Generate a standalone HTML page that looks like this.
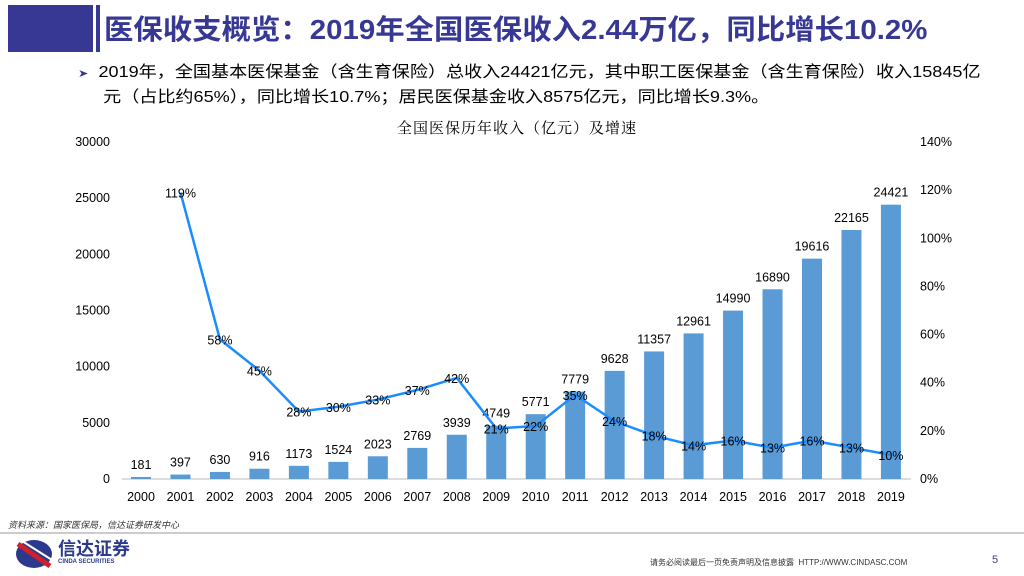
<!DOCTYPE html>
<html><head><meta charset="utf-8"><style>
body{margin:0;width:1024px;height:576px;background:#fff;position:relative;overflow:hidden;font-family:"Liberation Sans","Noto Sans CJK SC",sans-serif}
.abs{position:absolute}
</style></head><body>
<div class="abs" style="left:8px;top:5px;width:85px;height:47px;background:#363894"></div>
<div class="abs" style="left:96px;top:5px;width:4px;height:47px;background:#363894"></div>
<div class="abs" style="left:104px;top:8px;font-size:28px;font-weight:bold;color:#363894;white-space:nowrap;transform-origin:0 0;transform:scaleX(1.05)">医保收支概览：2019年全国医保收入2.44万亿，同比增长10.2%</div>
<div class="abs" style="left:78px;top:61px;font-size:16px;line-height:23px;color:#000;width:960px;white-space:nowrap;transform-origin:0 0;transform:scaleX(1.13)"><span style="color:#363894;font-size:11px">➤</span>&nbsp;&nbsp;2019年，全国基本医保基金（含生育保险）总收入24421亿元，其中职工医保基金（含生育保险）收入15845亿<br>&nbsp;&nbsp;&nbsp;&nbsp;&nbsp;元（占比约65%），同比增长10.7%；居民医保基金收入8575亿元，同比增长9.3%。</div>
<svg class="abs" style="left:0;top:0" width="1024" height="576">
<text x="517" y="133" text-anchor="middle" font-size="15" font-family="Liberation Serif,Noto Serif CJK SC,serif" letter-spacing="1">全国医保历年收入（亿元）及增速</text>
<g id="g" font-size="12.5" fill="#000"></g>
</svg>
<div class="abs" style="left:8px;top:518px;font-size:9px;font-style:italic;color:#333">资料来源：国家医保局，信达证券研发中心</div>
<div class="abs" style="left:0;top:532px;width:1024px;height:2px;background:#ccc"></div>
<svg class="abs" style="left:14px;top:538px" width="40" height="32"><ellipse cx="20" cy="16" rx="18" ry="14" fill="#2b3a8c"/><path d="M4 6 L36 28" stroke="#d0202a" stroke-width="5"/><path d="M8 3 L38 22" stroke="#fff" stroke-width="2"/></svg>
<div class="abs" style="left:58px;top:540px;font-size:18px;font-weight:bold;color:#2b3a8c;line-height:18px">信达证券<div style="font-size:6px;line-height:8px">CINDA SECURITIES</div></div>
<div class="abs" style="left:650px;top:557px;font-size:8px;color:#333">请务必阅读最后一页免责声明及信息披露 &nbsp;HTTP://WWW.CINDASC.COM</div>
<div class="abs" style="left:992px;top:554px;font-size:11px;color:#363894">5</div>
<script>
const years=["2000","2001","2002","2003","2004","2005","2006","2007","2008","2009","2010","2011","2012","2013","2014","2015","2016","2017","2018","2019"];
const income=[181,397,630,916,1173,1524,2023,2769,3939,4749,5771,7779,9628,11357,12961,14990,16890,19616,22165,24421];
const growth=[null,119,58,45,28,30,33,37,42,21,22,35,24,18,14,16,13,16,13,10];
const leftTicks=[0,5000,10000,15000,20000,25000,30000];
const rightTicks=[0,20,40,60,80,100,120,140];
const g=document.getElementById('g'),NS='http://www.w3.org/2000/svg';
const y0=479,y1=142;
const yL=v=>y0-(v/30000)*(y0-y1), yR=v=>y0-(v/140)*(y0-y1), x=i=>141+i*39.47;
function el(t,a,txt){const e=document.createElementNS(NS,t);for(const k in a)e.setAttribute(k,a[k]);if(txt!=null)e.textContent=txt;g.appendChild(e);return e;}
const ax=el('line',{x1:122,x2:911,y1:y0,y2:y0,stroke:'#bbb'});

leftTicks.forEach(v=>{const t=el('text',{x:110,y:yL(v)+4,'text-anchor':'end'},v);
});
rightTicks.forEach(v=>{const t=el('text',{x:920,y:yR(v)+4},v+'%');
});
years.forEach((yr,i)=>{
const b=el('rect',{x:x(i)-10,y:yL(income[i]),width:20,height:y0-yL(income[i]),fill:'#5b9bd5'});

const l=el('text',{x:x(i),y:yL(income[i])-8,'text-anchor':'middle'},income[i]);

const t=el('text',{x:x(i),y:y0+22,'text-anchor':'middle'},yr);

});
let d='';growth.forEach((v,i)=>{if(v==null)return;d+=(d?'L':'M')+x(i)+' '+yR(v);});
const p=el('path',{d:d,fill:'none',stroke:'#1a8cff','stroke-width':2.5});

growth.forEach((v,i)=>{if(v==null)return;
const t=el('text',{x:x(i),y:yR(v)+5,'text-anchor':'middle'},v+'%');
});
</script>
</body></html>
